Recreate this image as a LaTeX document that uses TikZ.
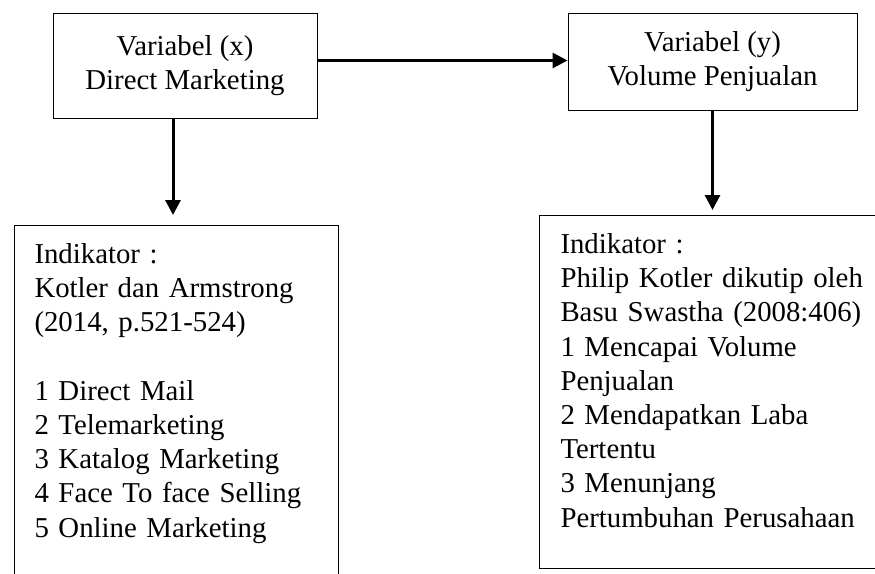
\documentclass[tikz,border=0pt]{standalone}
\usepackage{fontspec}
\setmainfont{Liberation Serif}
\usepackage{tikz}
\usetikzlibrary{arrows.meta, positioning}

\begin{document}
\begin{tikzpicture}[
    x=1pt, y=1pt,
    every node/.style={font=\fontsize{28.8pt}{34.2pt}\selectfont},
    varbox/.style={rectangle, draw, line width=1pt, align=center, inner sep=0pt},
    indbox/.style={rectangle, draw, line width=1pt, anchor=north west, align=left,
        inner ysep=18pt, text height=20pt},
    arr/.style={-{Triangle[width=15pt, length=15pt]}, line width=3pt}
]

    % frame of the page
    \path[use as bounding box] (0,0) rectangle (875,-573);
    \clip (0,0) rectangle (875,-573);

    % Variable nodes
    \node[varbox, minimum width=264pt, minimum height=105pt]
        (xbox) at (185,-65.5) {Variabel (x)\\Direct Marketing};
    \node[varbox, minimum width=289pt, minimum height=97pt]
        (ybox) at (712.5,-61.5) {Variabel (y)\\Volume Penjualan};

    % Indicator nodes
    \node[indbox, inner xsep=20pt, text width=284pt, text depth=309pt]
        (indx) at (14,-225) {Indikator :\\
        Kotler dan Armstrong\\
        (2014, p.521-524)\\
        ~\\
        1 Direct Mail\\
        2 Telemarketing\\
        3 Katalog Marketing\\
        4 Face To face Selling\\
        5 Online Marketing};
    \node[indbox, inner xsep=21pt, text width=310pt, text depth=297pt]
        (indy) at (539,-215) {Indikator :\\
        Philip Kotler dikutip oleh\\
        Basu Swastha (2008:406)\\
        1 Mencapai Volume\\
        Penjualan\\
        2 Mendapatkan Laba\\
        Tertentu\\
        3 Menunjang\\
        Pertumbuhan Perusahaan};

    % Arrows
    \draw[arr] ([yshift=5pt]xbox.east) -- ([yshift=5pt]xbox.east -| ybox.west);
    \draw[arr, shorten >=10pt] ([xshift=-12pt]xbox.south) -- ([xshift=-12pt]xbox.south |- indx.north);
    \draw[arr, shorten >=5pt] (ybox.south) -- (ybox.south |- indy.north);

\end{tikzpicture}
\end{document}
